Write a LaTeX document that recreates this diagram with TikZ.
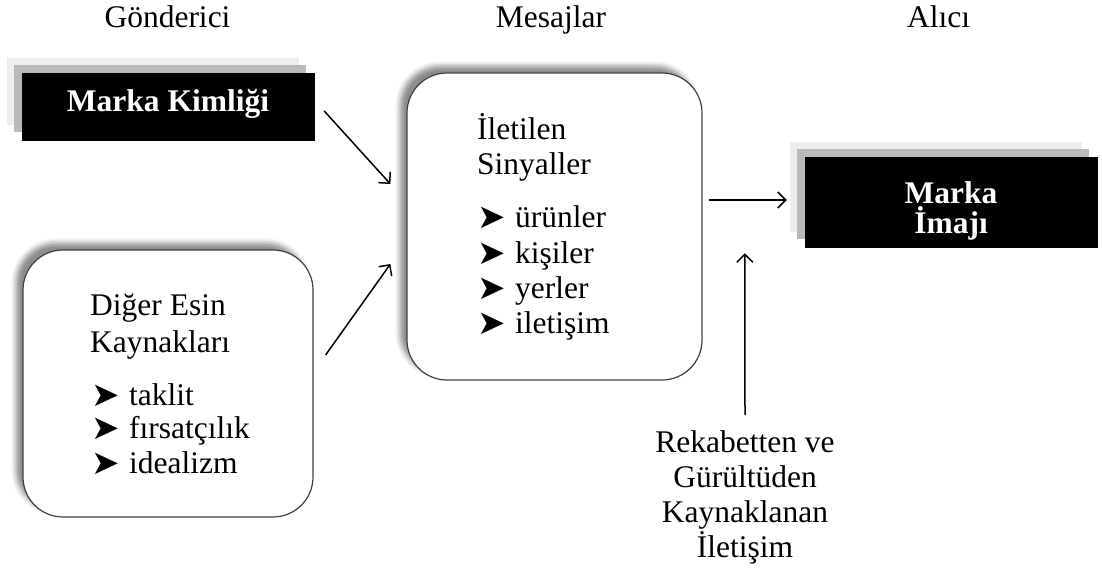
\documentclass[tikz,border=0pt]{standalone}
\usepackage{fontspec}
\setmainfont{Liberation Serif}
\newfontfamily\dingfont{DejaVu Sans}
\usetikzlibrary{arrows.meta,shadows,shadows.blur}

% arrowhead bullet used in the lists
\newcommand{\arrowbullet}{{\dingfont\fontsize{34}{34}\selectfont ➤}}

\begin{document}
\begin{tikzpicture}[x=1pt,y=1pt,
  txt/.style={font=\fontsize{31.5}{35}\selectfont, inner sep=0pt},
  btxt/.style={txt, font=\fontsize{31.5}{35}\selectfont\bfseries, text=white},
  bul/.style={inner sep=0pt, anchor=base west},
  markbox/.style={fill=black, draw=black, minimum width=292pt, inner sep=0pt,
    copy shadow={fill=black!7, draw=none, shadow xshift=-15pt, shadow yshift=15pt},
    copy shadow={fill=black!27, draw=none, shadow xshift=-8pt, shadow yshift=8pt}},
  roundbox/.style={draw=black!75, line width=1.2pt, fill=white, rounded corners=40pt,
    inner sep=0pt,
    blur shadow={shadow xshift=-7pt, shadow yshift=7pt, shadow blur radius=5pt,
      shadow opacity=45}},
  conn/.style={line width=1.5pt, -{Straight Barb[length=8pt, width=16pt, line width=1.5pt]}}
]
\useasboundingbox (0,0) rectangle (1102,571);

% column headings
\node[txt, anchor=base] (hsend) at (167.5,543) {Gönderici};
\node[txt, anchor=base] (hmsg)  at (551,543) {Mesajlar};
\node[txt, anchor=base] (hrecv) at (938.5,543) {Alıcı};

% sender side
\node[markbox, minimum height=67pt] (mk) at (168,464.5) {};
\node[btxt, anchor=base] (mkt) at (168,459) {Marka Kimliği};

\node[roundbox, minimum width=290pt, minimum height=267pt] (oth) at (168,187.5) {};
\node[txt, anchor=base west] (oth1) at (90,256) {Diğer Esin};
\node[txt, anchor=base west] (oth2) at (90,219) {Kaynakları};
\foreach \t/\y [count=\i] in {taklit/166, fırsatçılık/133, idealizm/98} {
  \node[bul] (ob\i) at (91,\y-1) {\arrowbullet};
  \node[txt, anchor=base west] (oi\i) at (129,\y) {\t};
}

% messages
\node[roundbox, minimum width=295pt, minimum height=307pt] (sig) at (554.5,344.5) {};
\node[txt, anchor=base west] (sig1) at (477,431) {İletilen};
\node[txt, anchor=base west] (sig2) at (477,396) {Sinyaller};
\foreach \t/\y [count=\i] in {ürünler/343, kişiler/308, yerler/273, iletişim/238} {
  \node[bul] (sb\i) at (477,\y-1) {\arrowbullet};
  \node[txt, anchor=base west] (si\i) at (515,\y) {\t};
}

% receiver side
\node[markbox, minimum height=90pt] (img) at (951,369) {};
\node[btxt, anchor=base] (img1) at (951,367) {Marka};
\node[btxt, anchor=base] (img2) at (951,337) {İmajı};

% noise source
\node[txt, align=center, anchor=north] (rek) at (745,141)
  {Rekabetten ve\\Gürültüden\\Kaynaklanan\\İletişim};

% connectors
\draw[conn] ([shift={(10,-4.5)}]mk.east) -- ([shift={(-16,42.5)}]sig.west);
\draw[conn] ([shift={(12,28.5)}]oth.east) -- ([shift={(-16,-37.5)}]sig.west);
\draw[conn] ([shift={(6,26.5)}]sig.east) -- ([shift={(-18,2)}]img.west);
\draw[conn] ([yshift=15pt]rek.north) -- ([shift={(-60,-6)}]img.south west);
\end{tikzpicture}
\end{document}
